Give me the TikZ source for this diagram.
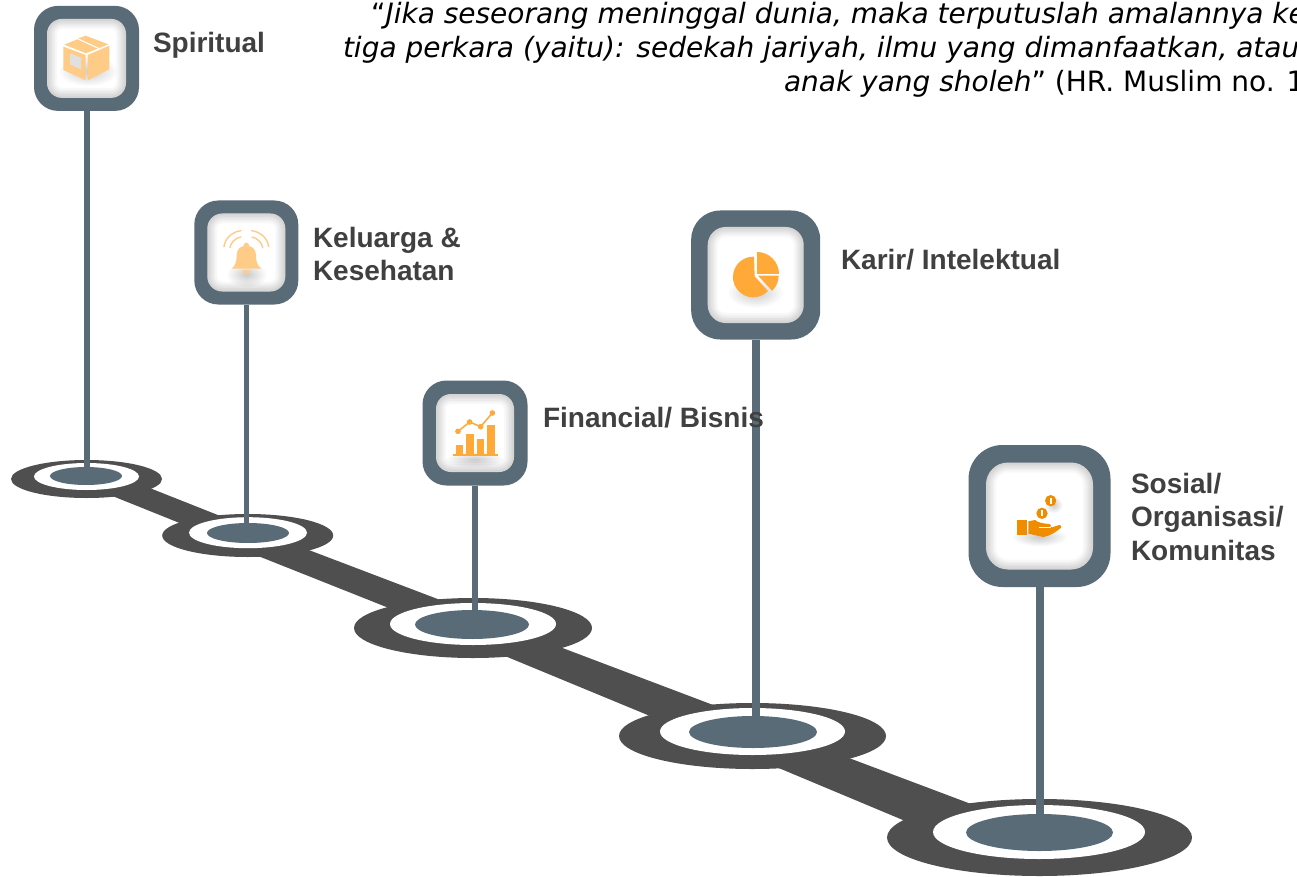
\documentclass[tikz,border=0pt]{standalone}
\usepackage{fontspec}
\setmainfont{Liberation Sans}
\newfontfamily\quotefont{DejaVu Sans}
\usetikzlibrary{shapes.geometric}
\definecolor{slate}{HTML}{5A6B78}
\definecolor{road}{HTML}{4F4F4F}
\definecolor{labelgrey}{HTML}{404040}
\definecolor{pale}{HTML}{FFCC88}
\definecolor{amber}{HTML}{FFA939}
\definecolor{deep}{HTML}{F08C00}
\tikzset{
  ring/.style={ellipse,inner sep=0pt,outer sep=0pt,draw=none,fill=#1},
  cardouter/.style={rectangle,inner sep=0pt,outer sep=0pt,fill=slate},
  cardinner/.style={rectangle,inner sep=0pt,outer sep=0pt,fill=white},
  stem/.style={draw=slate},
  roadpart/.style={fill=road},
  tag/.style={anchor=north west,inner sep=0pt,outer sep=0pt,align=left,text=labelgrey,
    font=\fontsize{28}{33.5}\selectfont\bfseries},
}
\newcommand{\cardbox}[7]{%
  \node[cardouter,minimum size=#4pt,rounded corners=#6pt] (#1) at (#2,#3) {};
  \node[cardinner,minimum size=#5pt,rounded corners=#7pt] (#1in) at (#2,#3) {};
  \begin{scope}
    \path[clip,rounded corners=#7pt] (#1in.south west) rectangle (#1in.north east);
    \foreach \w in {4,7,10,13,16,20}{
      \draw[black,opacity=.028,line width=\w pt,rounded corners=#7pt,yshift=-3pt]
        (#1in.south west) rectangle (#1in.north east);}
  \end{scope}}
\newcommand{\softblob}[4]{%
  \foreach \f in {1,.88,.76,.64,.52,.4,.28,.16}{
    \fill[black,opacity=.024] (#1,#2) ellipse[x radius=\f*#3,y radius=\f*#4];}}
\begin{document}
\begin{tikzpicture}[x=1pt,y=-1pt]
\useasboundingbox (0,0) rectangle (1297,877);
\fill[white] (0,0) rectangle (1297,877);
\clip (0,0) rectangle (1297,877);

% road
\fill[roadpart] (132,481) -- (238,523) -- (197,530) -- (95,489) -- cycle;
\fill[roadpart] (293,544) -- (456,606) -- (404,614) -- (243,550) -- cycle;
\fill[roadpart] (544,641) -- (729,711) -- (667,723) -- (488,649) -- cycle;
\fill[roadpart] (833,752) -- (987,810) -- (922,828) -- (762,761) -- cycle;

% stops
\node[ring=road,minimum width=151pt,minimum height=38pt] (s1) at (86.5,479) {};
\node[ring=white,minimum width=105pt,minimum height=27pt] (s1w) at (86.5,476.5) {};
\node[ring=slate,minimum width=72pt,minimum height=18pt] (s1i) at (86,476) {};
\node[ring=road,minimum width=171pt,minimum height=43pt] (s2) at (247.7,535.5) {};
\node[ring=white,minimum width=118pt,minimum height=31pt] (s2w) at (248,532.7) {};
\node[ring=slate,minimum width=82pt,minimum height=20pt] (s2i) at (248,533) {};
\node[ring=road,minimum width=238pt,minimum height=60pt] (s3) at (473,628) {};
\node[ring=white,minimum width=166pt,minimum height=42pt] (s3w) at (473,624) {};
\node[ring=slate,minimum width=114pt,minimum height=29pt] (s3i) at (472,624.5) {};
\node[ring=road,minimum width=267pt,minimum height=66pt] (s4) at (752.5,736) {};
\node[ring=white,minimum width=185pt,minimum height=47pt] (s4w) at (752.5,731.5) {};
\node[ring=slate,minimum width=128pt,minimum height=32pt] (s4i) at (753,732) {};
\node[ring=road,minimum width=305pt,minimum height=77pt] (s5) at (1039.5,837.5) {};
\node[ring=white,minimum width=212pt,minimum height=54pt] (s5w) at (1039,832) {};
\node[ring=slate,minimum width=147pt,minimum height=37pt] (s5i) at (1039.5,832.5) {};

% cards
\cardbox{c1}{86.5}{58.4}{105}{79}{24}{15}
\cardbox{c2}{246.3}{252.5}{104}{78}{24}{15}
\cardbox{c3}{475}{433}{105}{78}{24}{15}
\cardbox{c4}{755.7}{275}{129}{96}{29}{18}
\cardbox{c5}{1039.5}{516}{142}{107}{34}{22}

% stems
\draw[stem,line width=6pt] (c1.south) -- (c1.south |- s1i.north);
\draw[stem,line width=5pt] (c2.south) -- (c2.south |- s2i.north);
\draw[stem,line width=6pt] (c3.south) -- (c3.south |- s3i.north);
\draw[stem,line width=8pt] (c4.south) -- (c4.south |- s4i.north);
\draw[stem,line width=8pt] (c5.south) -- (c5.south |- s5i.north);

% box icon
\begin{scope}[shift={(20,0)},scale=1/3]
  \softblob{205}{215}{85}{42}
  \fill[pale] (130,140) -- (197,165) -- (197,241) -- (130,210) -- cycle;
  \fill[pale] (203,165) -- (268,137) -- (268,208) -- (203,241) -- cycle;
  \fill[pale] (133,134) -- (172,118) -- (233,146) -- (198,160) -- cycle;
  \fill[pale] (175,115) -- (197,107) -- (265,133) -- (238,144) -- cycle;
  \fill[black!12] (150,160) -- (183,173) -- (183,208) -- (150,193) -- cycle;
\end{scope}

% bell icon
\begin{scope}[shift={(185,195)},scale=1/3]
  \softblob{186}{240}{58}{36}
  \fill[pale] (184,151) circle[radius=8];
  \fill[pale] (140,221) .. controls (152,212) and (155,198) .. (155,180)
     .. controls (155,162) and (168,152) .. (184,152)
     .. controls (200,152) and (213,162) .. (213,180)
     .. controls (213,198) and (216,212) .. (229,221) -- cycle;
  \fill[pale] (172,226) -- (196,226) arc[start angle=0,end angle=180,radius=12];
  \draw[pale,line width=1.4pt,line cap=round] (135,158) .. controls (137,143) and (150,130) .. (167,126);
  \draw[pale,line width=1.4pt,line cap=round] (117,155) .. controls (120,130) and (142,110) .. (168,107);
  \draw[pale,line width=1.4pt,line cap=round] (233,158) .. controls (231,143) and (218,130) .. (201,126);
  \draw[pale,line width=1.4pt,line cap=round] (251,155) .. controls (248,130) and (226,110) .. (200,107);
\end{scope}

% chart icon
\begin{scope}[shift={(415,375)},scale=1/3]
  \softblob{180}{255}{85}{22}
  \fill[amber] (122,210) rectangle (144,238);
  \fill[amber] (153,177) rectangle (177,238);
  \fill[amber] (186,191) rectangle (208,238);
  \fill[amber] (217,150) rectangle (240,238);
  \fill[amber] (113,238) rectangle (248,241.5);
  \draw[amber,line width=1.5pt] (129,169) -- (164,141) -- (197,155) -- (232,114);
  \fill[amber] (129,169) circle[radius=8.5];
  \fill[amber] (164,141) circle[radius=8.5];
  \fill[amber] (197,155) circle[radius=8.5];
  \fill[amber] (232,114) circle[radius=8.5];
\end{scope}

% pie icon
\begin{scope}[shift={(685,205)},scale=1/3]
  \softblob{212}{265}{80}{42}
  \fill[amber] (209,214) -- (207,155) arc[start angle=-88,end angle=-316,radius=61] -- cycle;
  \fill[amber] (216,207) -- (216,141) arc[start angle=-90,end angle=0,radius=66] -- cycle;
  \fill[amber] (219,212) -- (281,212) arc[start angle=0,end angle=47,radius=62] -- cycle;
\end{scope}

% hand icon
\begin{scope}[shift={(960,440)},scale=1/3]
  \softblob{240}{292}{80}{26}
  \softblob{282}{196}{26}{24}
  \fill[deep] (272,182) circle[radius=17];
  \fill[white] (269.5,173) rectangle (275,191);
  \fill[deep] (246,220) circle[radius=17];
  \fill[white] (243.5,211) rectangle (249,229);
  \fill[deep] (172,239) rectangle (200,284);
  \fill[deep] (205,244) -- (225,240) .. controls (235,248) and (245,250) .. (268,252)
     .. controls (274,254) and (274,258) .. (270,260) -- (276,262) -- (298,255)
     .. controls (303,255) and (306,260) .. (303,263)
     .. controls (290,275) and (270,288) .. (250,291) -- (205,281) -- cycle;
  \draw[white,line width=.6pt] (238,262) -- (272,262);
\end{scope}

% labels
\node[tag] (t1) at (153,32) {Spiritual};
\node[tag] (t2) at (313,227) {Keluarga \&\\Kesehatan};
\node[tag] (t3) at (543,407) {Financial/ Bisnis};
\node[tag] (t4) at (841,249) {Karir/ Intelektual};
\node[tag] (t5) at (1131,473) {Sosial/\\Organisasi/\\Komunitas};

% quotation
\node[anchor=north west,inner sep=0pt,outer sep=0pt,align=left,text=black,
  font=\fontsize{28}{34}\quotefont] (q) at (343,2)
  {\hspace*{28pt}“\textit{Jika seseorang meninggal dunia, maka terputuslah amalannya ke}\\
   \textit{tiga perkara (yaitu): sedekah jariyah, ilmu yang dimanfaatkan, atau}\\
   \hspace*{441pt}\textit{anak yang sholeh}” (HR. Muslim no. 1};
\end{tikzpicture}
\end{document}
